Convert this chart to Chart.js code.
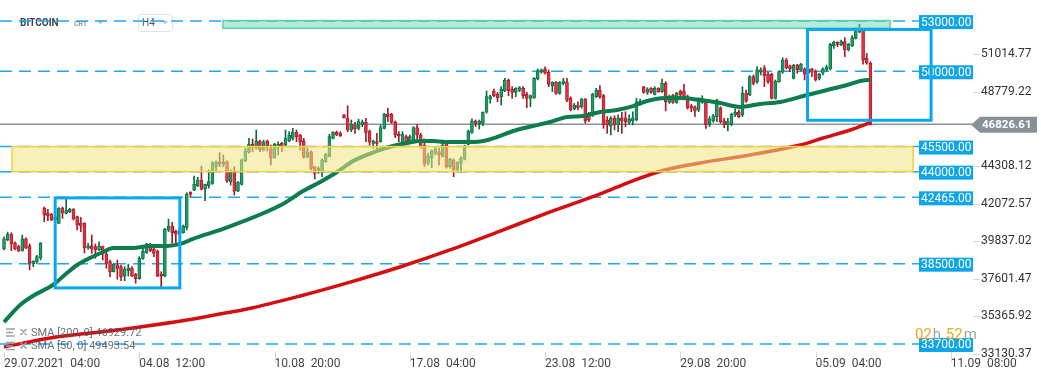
<!DOCTYPE html>
<html>
<head>
<meta charset="utf-8">
<script src="https://cdn.jsdelivr.net/npm/chart.js"></script>
<style>
html,body{margin:0;padding:0;background:#fff;}
#wrap{position:relative;width:1041px;height:379px;}
</style>
</head>
<body>
<div id="wrap"><canvas id="c" width="1041" height="379"></canvas></div>
<script>
// ---------------- DATA ----------------
const symbolName = 'BITCOIN';
const symbolType = 'CRT';
const intervalName = 'H4';

const opens = [
39380,39920,40270,39740,39520,39280,39990,39560,38480,38600,
38840,41830,41510,41470,41110,40910,41830,41510,41610,41770,
41310,40930,40930,39440,39560,39520,39320,39520,39080,38620,
38020,38420,38320,37760,38080,38240,37880,37600,38820,39160,
39620,39380,39260,37880,37760,40510,40750,40450,40270,40350,
40670,42780,42900,43160,43500,42950,43160,43300,44300,44560,
44440,44600,43400,44040,42840,43240,44640,45160,45630,45400,
45830,45300,45830,45360,44830,45490,45690,45590,45830,45990,
46350,46190,45830,44890,45190,44300,43960,43960,44590,44890,
45990,46350,46290,47390,47190,46490,46790,46590,46790,46950,
46430,45690,45790,45790,46590,47430,47430,46950,46230,45690,
46090,45790,45830,46630,46190,45590,44500,44830,45100,45190,
44900,45690,44300,44700,44100,44500,44760,45630,46350,47030,
46870,46890,47550,48330,48820,48620,48480,48820,49480,48940,
48740,48860,48980,48620,48380,48420,49540,49940,50140,49940,
49140,49340,48680,49280,49340,48380,47750,47980,47880,48340,
47430,47390,48480,48880,48540,47090,46750,47190,46790,47220,
47220,46950,47030,47090,48030,49080,48740,48980,48620,48980,
48780,49280,48140,48580,48140,48820,48820,48480,47940,47880,
47690,48140,48220,46830,47030,47290,47820,47030,46790,46830,
47390,47580,47390,48680,48580,49680,49380,49940,50210,49820,
49820,48380,49380,49940,50670,50330,49580,50370,50080,50140,
49880,50140,50020,49580,49880,50080,50140,51530,51730,51570,
51770,51270,51530,51970,52330,52470,50770,50480
];
const highs = [
40110,40390,40350,39810,39600,40210,40040,39680,38680,39000,
39760,41890,41750,41510,41400,41850,41890,42370,41810,41790,
41350,41270,40950,39720,40210,39680,39800,39560,39280,38720,
38520,38720,38420,38320,38480,38320,37920,38920,39420,39720,
39720,39420,39320,38020,40610,41170,40970,40510,40600,40810,
42740,42800,43740,43660,44340,43260,44100,44600,44650,45130,
45000,44640,44100,44300,43400,44760,45400,45990,45950,46490,
45890,45890,45890,45590,45700,45790,45750,46490,46390,46590,
46490,46230,45990,45400,45240,44300,44300,44760,45100,46230,
46390,46430,46390,47430,47940,47090,46950,47130,47090,47190,
46490,45890,46290,46790,47490,47790,47490,47030,46390,46390,
46190,46190,46690,46830,46290,45950,45100,45300,45490,45400,
45700,45760,44800,44760,44600,44900,45590,46490,47150,47090,
47090,47580,48820,48580,48940,48740,49080,49580,49540,49080,
49020,49080,49080,48740,48580,49620,50140,50140,50260,50080,
49380,49380,49380,49580,49580,48480,48080,48180,48380,48380,
47550,48680,48980,49140,48620,47290,47290,47340,47390,47550,
47580,47390,47580,48380,48340,49080,49020,49020,49080,49020,
49540,49380,48580,48620,48740,48880,49220,48580,48020,47940,
48420,48540,48280,47290,47430,48340,47880,47190,47190,47490,
47750,47690,49080,48880,49740,49780,50280,50210,50340,49940,
49880,49480,50020,50810,50770,50370,50420,50420,50480,50210,
50210,50180,50080,49880,50210,50370,51670,51810,51770,51870,
52010,51670,52130,52600,52810,52470,51070,50570
];
const lows = [
39320,39870,39280,39320,39220,39250,39400,38120,38320,38520,
38720,41010,41070,41070,41000,40910,41210,41470,41550,41110,
40510,40410,39140,39360,39120,38820,39280,38720,38220,37720,
38000,37570,37480,37480,37760,37720,37330,37570,38760,39120,
39220,38920,37720,37120,37720,40410,39720,39680,40200,40320,
40510,42470,42860,43100,42900,42260,43010,43240,44000,44300,
44300,43360,43200,42600,42800,43200,44600,45100,45190,45350,
45190,45230,45230,44400,44800,45000,45190,45490,45790,45890,
45790,45290,44800,44830,44100,43560,43900,43700,44560,44890,
45950,46150,46090,47190,46390,46390,46290,46490,46690,45790,
45590,45400,45350,45760,46550,46990,46890,46030,45790,45630,
45630,45690,45760,45950,45400,44300,44400,44240,45000,44400,
44880,44200,44200,43700,44000,43960,44700,45590,46290,46690,
46550,46750,47500,48090,48480,48180,47980,48780,48540,48380,
48480,48780,48380,47820,47880,48380,49480,49880,49820,49080,
48780,48620,48620,49180,48180,47630,47690,47690,47790,46890,
46990,47290,48420,48380,46590,46290,46190,46490,46390,46290,
46690,46830,46790,47030,47980,48680,48620,48680,48580,48740,
48740,47630,48080,48080,48080,48480,48340,47740,47580,47290,
47580,48080,46590,46690,46950,46990,46890,46630,46430,46750,
47290,47220,47290,48140,48540,49180,49280,49780,49080,49280,
48340,48340,49340,49880,50140,49970,49540,49880,50020,49480,
49820,49680,49420,49480,49780,50020,50080,51370,51470,51530,
50870,51210,51470,51930,52300,50420,50420,46780
];
const closes = [
39980,40270,39680,39380,39280,39980,39420,38560,38660,38920,
39740,41410,41370,41110,41300,41830,41530,41670,41770,41170,
40810,40750,39440,39560,39400,39320,39560,39120,38520,38020,
38480,38220,37720,38180,38240,37760,37600,38820,39260,39680,
39280,39120,37760,37760,40570,40750,40350,40270,40500,40750,
42660,42660,43240,43500,42950,43240,43400,44540,44560,44440,
44560,43440,43960,42840,43360,44700,45240,45630,45490,45830,
45300,45790,45550,44800,45630,45630,45490,45990,46190,46350,
46090,45760,44890,45190,44200,43900,44200,44700,45040,46090,
46350,46190,46150,47230,46490,46830,46550,46990,46950,46350,
45760,45830,45690,46630,47430,47290,46950,46190,46150,46230,
45760,46090,46630,46190,45490,44440,44950,45240,45360,45000,
45590,44300,44760,44100,44560,44800,45490,46430,47030,46890,
47030,47550,48480,48480,48540,48420,48940,49480,48820,48740,
48980,49020,48540,48380,48540,49580,50020,50080,49880,49220,
49340,48680,49340,49420,48280,47690,47980,47820,48340,47030,
47090,48620,48880,48480,46790,46790,47190,46790,47190,47030,
46990,47150,47220,48180,48220,48740,48940,48740,48980,48780,
49280,48180,48480,48140,48680,48580,48420,47820,47790,47630,
48280,48280,46790,47150,47340,48280,46990,46830,46990,47430,
47550,47290,48680,48220,49680,49280,50080,50080,49740,49380,
48380,49420,49980,50670,50210,50140,50370,50080,50420,49820,
50140,49940,49480,49820,50140,50270,51610,51730,51610,51770,
51270,51610,52010,52470,52470,50670,50480,46826.61
];

// SMA 50 (green) read at candle indices
const sma50Idx = [0,4.4,7.9,13.4,17.2,20,23.5,27.1,29.8,35.3,39.9,44.6,48.2,51.7,56.4,60.5,76.3,81.8,86.5,91.1,95.5,99.3,102.9,106.4,110.3,113.8,117.4,120.7,123.9,128.3,131.1,134.9,139.3,144.7,149.4,154,158.4,163.1,167.7,172.1,175.9,180.8,185,190.4,195.9,201.4,206.8,212.3,219.7,225.2,230.6,234.2,237];
const sma50Val = [35010,36030,36570,37230,37940,38420,38840,39200,39440,39440,39560,39560,39680,39980,40330,40630,42070,42840,43380,43980,44640,45000,45300,45530,45710,45830,45830,45770,45770,45770,45830,46070,46430,46730,46970,47270,47330,47570,47690,47920,48220,48400,48400,48280,48100,47870,48040,48160,48580,48880,49180,49420,49493.54];
// SMA 200 (red)
const sma200Idx = [0,12.6,26.3,35.3,50.1,60.5,66.5,81,94.7,108.3,122,135.7,149.4,163.1,171.8,180.8,190.4,204.1,217.8,224.1,231.5,237];
const sma200Val = [33520,34060,34420,34660,35130,35550,35790,36570,37400,38300,39320,40450,41590,42670,43440,44100,44520,45000,45590,46010,46490,46929.72];

// axis ticks
const xTickIdx = [0,37,74,111,148,185,222,259];
const xTickLabels = ['29.07.2021  04:00','04.08  12:00','10.08  20:00','17.08  04:00','23.08  12:00','29.08  20:00','05.09  04:00','11.09  08:00'];
const yTickValues = [51014.77,48779.22,44308.12,42072.57,39837.02,37601.47,35365.92,33130.37];

// drawn price levels, zones, boxes
const levelValues = [53000,50000,45500,44000,42465,38500,33700];
const zoneFrom = [2.2, 59.9];
const zoneTo = [248.7, 242.4];
const zoneTop = [45500, 53030];
const zoneBottom = [44000, 52570];
const boxFrom = [14.0, 219.8];
const boxTo = [48.1, 253.6];
const boxTop = [42430, 52500];
const boxBottom = [37050, 47070];
const lastPrice = 46826.61;
const countdownHours = '02';
const countdownMinutes = '52';

// ---------------- STYLES ----------------
const GREEN = '#1d9b63', GREEN_D = '#0d6b42', RED = '#e1303f', RED_D = '#a61b27';
const zoneFill = ['rgba(240,228,131,0.55)', 'rgba(100,214,178,0.48)'];
const zoneStroke = ['#f1d140', '#5ccfa8'];
const FONT = "Roboto, 'Liberation Sans', sans-serif";
Chart.defaults.font.family = FONT;

const candleIdx = opens.map((_, i) => i);
const isUp = i => closes[i] >= opens[i];

function tri(ctx, x, y, w, color) {
  ctx.fillStyle = color;
  ctx.beginPath(); ctx.moveTo(x, y); ctx.lineTo(x + w, y); ctx.lineTo(x + w / 2, y + w * 0.55); ctx.closePath(); ctx.fill();
}

const overlay = {
  id: 'overlay',
  beforeDatasetsDraw(chart) {
    const {ctx, chartArea: a, scales: {x, y}} = chart;
    ctx.save();
    // header
    ctx.textBaseline = 'middle';
    ctx.fillStyle = '#3b4651'; ctx.font = 'bold 10px ' + FONT; ctx.fillText(symbolName, 20, 23);
    ctx.fillStyle = '#8d9aa5'; ctx.font = 'bold 7px ' + FONT; ctx.fillText(symbolType, 74, 24);
    tri(ctx, 97, 20.5, 7, '#b8c0c7');
    ctx.strokeStyle = '#dde2e6'; ctx.lineWidth = 1; ctx.beginPath(); ctx.roundRect(138.5, 14.5, 34, 17, 3); ctx.stroke();
    ctx.fillStyle = '#4a5661'; ctx.font = '10px ' + FONT; ctx.fillText(intervalName, 142, 23.5);
    tri(ctx, 162, 21, 6, '#b8c0c7');
    // dashed levels
    ctx.strokeStyle = '#1ea8f0'; ctx.lineWidth = 1.5; ctx.setLineDash([12, 7]);
    for (const v of levelValues) {
      const py = y.getPixelForValue(v);
      ctx.beginPath(); ctx.moveTo(a.left, py); ctx.lineTo(a.right + 4, py); ctx.stroke();
    }
    ctx.setLineDash([]);
    // last price line
    const pp = y.getPixelForValue(lastPrice);
    ctx.strokeStyle = '#8b9398'; ctx.lineWidth = 1.5;
    ctx.beginPath(); ctx.moveTo(a.left, pp); ctx.lineTo(a.right + 57, pp); ctx.stroke();
    ctx.restore();
  },
  afterDatasetsDraw(chart) {
    const {ctx, chartArea: a, scales: {x, y}} = chart;
    ctx.save();
    // zones
    for (let k = 0; k < zoneFrom.length; k++) {
      const x0 = x.getPixelForValue(zoneFrom[k]), x1 = x.getPixelForValue(zoneTo[k]);
      const y0 = y.getPixelForValue(zoneTop[k]), y1 = y.getPixelForValue(zoneBottom[k]);
      ctx.fillStyle = zoneFill[k]; ctx.fillRect(x0, y0, x1 - x0, y1 - y0);
      ctx.strokeStyle = zoneStroke[k]; ctx.lineWidth = 1.5; ctx.strokeRect(x0, y0, x1 - x0, y1 - y0);
    }
    // legend
    const legendRows = [
      'SMA [200, 0] ' + sma200Val[sma200Val.length - 1].toFixed(2),
      'SMA [50, 0] ' + sma50Val[sma50Val.length - 1].toFixed(2)
    ];
    legendRows.forEach((t, r) => {
      const cy = 332.5 + r * 13.5;
      ctx.strokeStyle = '#9ca3a8'; ctx.lineWidth = 1.6;
      ctx.beginPath();
      ctx.moveTo(6, cy - 3.5); ctx.lineTo(15, cy - 3.5);
      ctx.moveTo(6, cy); ctx.lineTo(13, cy);
      ctx.moveTo(6, cy + 3.5); ctx.lineTo(15, cy + 3.5);
      ctx.moveTo(20.5, cy - 3.5); ctx.lineTo(26.5, cy + 2.5);
      ctx.moveTo(26.5, cy - 3.5); ctx.lineTo(20.5, cy + 2.5);
      ctx.stroke();
      ctx.fillStyle = 'rgba(80,88,95,0.85)'; ctx.font = '11px ' + FONT; ctx.textBaseline = 'middle';
      ctx.fillText(t, 31, cy + 0.5);
    });
    // x tick marks
    ctx.strokeStyle = '#d6d9db'; ctx.lineWidth = 1;
    for (const v of xTickIdx) {
      const px = Math.round(x.getPixelForValue(v)) + 0.5;
      ctx.beginPath(); ctx.moveTo(px, a.bottom - 2); ctx.lineTo(px, a.bottom + 8); ctx.stroke();
    }
    // y tick marks
    for (const v of yTickValues) {
      const py = Math.round(y.getPixelForValue(v)) + 0.5;
      ctx.beginPath(); ctx.moveTo(a.right + 58, py); ctx.lineTo(a.right + 65, py); ctx.stroke();
    }
    // level labels
    ctx.font = '12px ' + FONT; ctx.textBaseline = 'middle';
    for (const v of levelValues) {
      const py = y.getPixelForValue(v) + 1;
      ctx.fillStyle = '#0ea5e9'; ctx.fillRect(a.right + 4, py - 7, 54, 14);
      ctx.fillStyle = '#ffffff'; ctx.fillText(v.toFixed(2), a.right + 6, py + 0.5);
    }
    // rectangles
    ctx.strokeStyle = '#06a9f0'; ctx.lineWidth = 3;
    for (let k = 0; k < boxFrom.length; k++) {
      const x0 = x.getPixelForValue(boxFrom[k]), x1 = x.getPixelForValue(boxTo[k]);
      const y0 = y.getPixelForValue(boxTop[k]), y1 = y.getPixelForValue(boxBottom[k]);
      ctx.strokeRect(x0, y0, x1 - x0, y1 - y0);
    }
    // last price tag
    const pp = y.getPixelForValue(lastPrice);
    const tx = a.right + 56;
    ctx.fillStyle = '#879297';
    ctx.beginPath();
    ctx.moveTo(tx, pp + 0.5); ctx.lineTo(tx + 9, pp - 7.5); ctx.lineTo(1037, pp - 7.5);
    ctx.lineTo(1037, pp + 8.5); ctx.lineTo(tx + 9, pp + 8.5); ctx.closePath(); ctx.fill();
    ctx.fillStyle = '#ffffff'; ctx.font = 'bold 11.5px ' + FONT; ctx.textBaseline = 'middle';
    ctx.fillText(lastPrice.toFixed(2), tx + 11, pp + 1);
    // countdown
    ctx.font = '15px ' + FONT; ctx.textBaseline = 'alphabetic';
    let cx = a.right;
    const cyb = 338.5;
    const parts = [[countdownHours, '#f5a31c'], ['h', '#9ea7ad'], [' ' + countdownMinutes, '#f5a31c'], ['m', '#9ea7ad']];
    for (const [t, c] of parts) { ctx.fillStyle = c; ctx.fillText(t, cx, cyb); cx += ctx.measureText(t).width + 1; }
    ctx.restore();
  }
};

new Chart(document.getElementById('c'), {
  type: 'bar',
  data: {
    datasets: [
      {
        type: 'bar', label: 'wicks',
        data: candleIdx.map(i => ({x: i, y: [lows[i], highs[i]]})),
        barThickness: 1, grouped: false, order: 4,
        backgroundColor: c => isUp(c.dataIndex) ? GREEN_D : RED_D
      },
      {
        type: 'bar', label: 'bodies',
        data: candleIdx.map(i => ({x: i, y: [opens[i], closes[i]]})),
        barThickness: 3, grouped: false, order: 3, minBarLength: 1,
        borderSkipped: false, borderWidth: 0.8,
        backgroundColor: c => isUp(c.dataIndex) ? GREEN : RED,
        borderColor: c => isUp(c.dataIndex) ? GREEN_D : RED_D
      },
      {
        type: 'line', label: 'SMA200',
        data: sma200Idx.map((v, k) => ({x: v, y: sma200Val[k]})),
        borderColor: '#d30f12', borderWidth: 3.5, pointRadius: 0,
        cubicInterpolationMode: 'monotone', order: 2
      },
      {
        type: 'line', label: 'SMA50',
        data: sma50Idx.map((v, k) => ({x: v, y: sma50Val[k]})),
        borderColor: '#0d7d4d', borderWidth: 4, pointRadius: 0,
        cubicInterpolationMode: 'monotone', order: 1
      }
    ]
  },
  options: {
    responsive: false, animation: false, devicePixelRatio: 1,
    layout: {padding: 0},
    plugins: {legend: {display: false}, tooltip: {enabled: false}},
    scales: {
      x: {
        type: 'linear', min: -1.1, max: 249.2, offset: false,
        grid: {display: false, drawTicks: false, offset: false}, border: {display: false},
        ticks: {autoSkip: false, maxRotation: 0, minRotation: 0, align: 'start', padding: 3,
          color: '#444', font: {size: 12}, callback: (v, i) => xTickLabels[i]},
        afterBuildTicks: s => { s.ticks = xTickIdx.map(v => ({value: v})); },
        afterFit: s => { s.height = 25; s.paddingLeft = 0; s.paddingRight = 0; }
      },
      y: {
        position: 'right', min: 33101, max: 54260,
        grid: {display: false, drawTicks: false}, border: {display: false},
        ticks: {padding: 66, color: '#333', font: {size: 12}, callback: v => Number(v).toFixed(2)},
        afterBuildTicks: s => { s.ticks = yTickValues.map(v => ({value: v})); },
        afterFit: s => { s.width = 126; s.paddingTop = 0; s.paddingBottom = 0; }
      }
    }
  },
  plugins: [overlay]
});
</script>
</body>
</html>
